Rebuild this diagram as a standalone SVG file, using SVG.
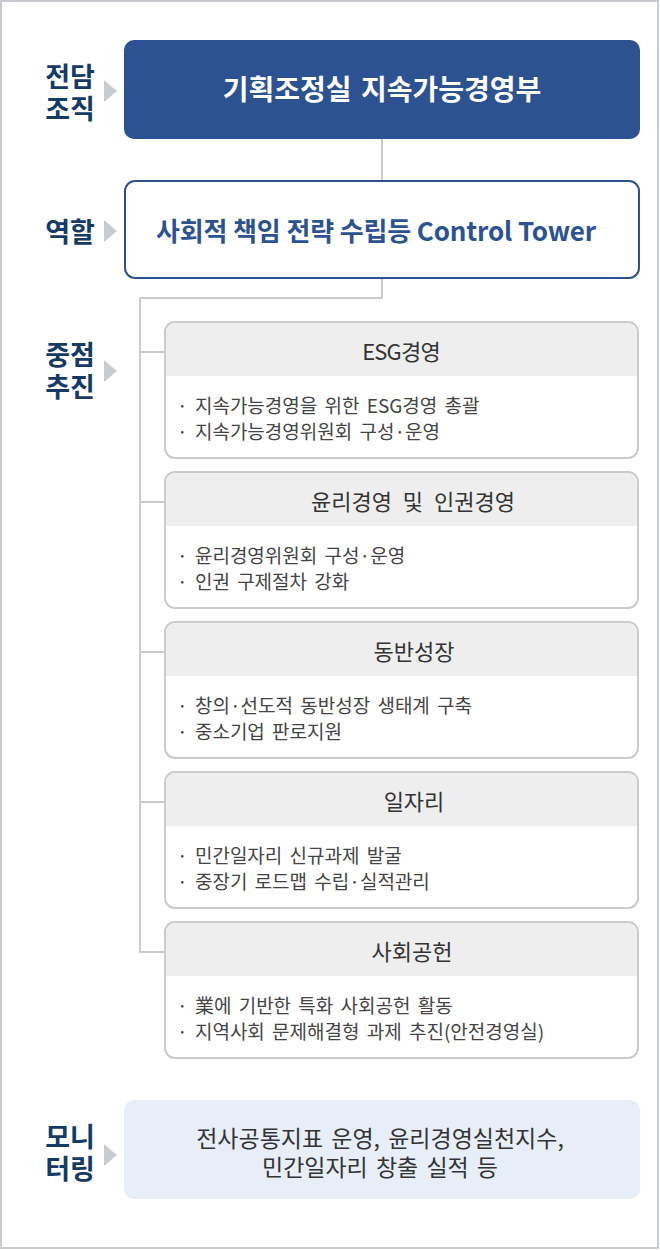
<svg xmlns="http://www.w3.org/2000/svg" width="660" height="1250" viewBox="0 0 660 1250">
<style>
.lbl{font-family:"Noto Sans CJK KR","Noto Sans",sans-serif;font-weight:700;font-size:27px;fill:#163a66;text-anchor:middle}
.arr{fill:#c8ccd0}
.card{fill:#ffffff;stroke:#c8ccd0;stroke-width:2}
.hdr{fill:#eeeeee}
.ttl{font-family:"Noto Sans CJK KR","Noto Sans",sans-serif;font-size:22px;fill:#333333;text-anchor:middle;word-spacing:6px}
.bul{font-family:"Noto Sans CJK KR","Noto Sans",sans-serif;font-size:19px;fill:#444444;word-spacing:3px}
.con{fill:none;stroke:#c8ccd0;stroke-width:2}
.mon{font-family:"Noto Sans CJK KR","Noto Sans",sans-serif;font-size:23px;fill:#333333;text-anchor:middle;word-spacing:3px}
</style>
<rect x="1" y="1" width="657" height="1247" fill="#ffffff" stroke="#c8ccd0" stroke-width="2"/>
<g id="labels">
<text class="lbl"><tspan x="70" y="87">전담</tspan><tspan x="70" y="119">조직</tspan></text>
<polygon class="arr" points="104,80 117,91 104,102"/>
<text class="lbl" x="70" y="242">역할</text>
<polygon class="arr" points="104,220 117,231 104,242"/>
<text class="lbl"><tspan x="70" y="365">중점</tspan><tspan x="70" y="397">추진</tspan></text>
<polygon class="arr" points="104,360 117,371 104,382"/>
<text class="lbl"><tspan x="70" y="1147">모니</tspan><tspan x="70" y="1179">터링</tspan></text>
<polygon class="arr" points="104,1144 117,1155 104,1166"/>
</g>
<g id="connectors">
<line class="con" x1="382" y1="139" x2="382" y2="181"/>
<polyline class="con" points="382,278 382,298 140,298 140,952 165,952"/>
<line class="con" x1="140" y1="352" x2="165" y2="352"/>
<line class="con" x1="140" y1="502" x2="165" y2="502"/>
<line class="con" x1="140" y1="652" x2="165" y2="652"/>
<line class="con" x1="140" y1="802" x2="165" y2="802"/>
</g>
<g id="node-org">
<rect x="124" y="40" width="516" height="99" rx="10" fill="#2d5291"/>
<text x="382" y="100" font-family="'Noto Sans CJK KR','Noto Sans',sans-serif" font-weight="700" font-size="28" fill="#ffffff" text-anchor="middle" word-spacing="3">기획조정실 지속가능경영부</text>
</g>
<g id="node-role">
<rect x="125" y="181" width="514" height="97" rx="10" fill="#ffffff" stroke="#2d5291" stroke-width="2"/>
<text x="376" y="241" font-family="'Noto Sans CJK KR','Noto Sans',sans-serif" font-weight="700" font-size="26" fill="#2d5291" text-anchor="middle" letter-spacing="-0.15">사회적 책임 전략 수립등 Control Tower</text>
</g>
<g id="card-esg">
<rect class="card" x="165" y="322" width="473" height="136" rx="10"/>
<path class="hdr" d="M166,376 V332 A9,9 0 0 1 175,323 H628 A9,9 0 0 1 637,332 V376 Z"/>
<text class="ttl" x="401" y="360" letter-spacing="-0.8">ESG경영</text>
<text class="bul" x="177" y="413">· 지속가능경영을 위한 ESG경영 총괄</text>
<text class="bul" x="177" y="439">· 지속가능경영위원회 구성·운영</text>
</g>
<g id="card-ethics">
<rect class="card" x="165" y="472" width="473" height="136" rx="10"/>
<path class="hdr" d="M166,526 V482 A9,9 0 0 1 175,473 H628 A9,9 0 0 1 637,482 V526 Z"/>
<text class="ttl" x="413" y="510">윤리경영 및 인권경영</text>
<text class="bul" x="177" y="563">· 윤리경영위원회 구성·운영</text>
<text class="bul" x="177" y="589">· 인권 구제절차 강화</text>
</g>
<g id="card-growth">
<rect class="card" x="165" y="622" width="473" height="136" rx="10"/>
<path class="hdr" d="M166,676 V632 A9,9 0 0 1 175,623 H628 A9,9 0 0 1 637,632 V676 Z"/>
<text class="ttl" x="414" y="660">동반성장</text>
<text class="bul" x="177" y="713">· 창의·선도적 동반성장 생태계 구축</text>
<text class="bul" x="177" y="739">· 중소기업 판로지원</text>
</g>
<g id="card-jobs">
<rect class="card" x="165" y="772" width="473" height="136" rx="10"/>
<path class="hdr" d="M166,826 V782 A9,9 0 0 1 175,773 H628 A9,9 0 0 1 637,782 V826 Z"/>
<text class="ttl" x="414" y="810">일자리</text>
<text class="bul" x="177" y="863">· 민간일자리 신규과제 발굴</text>
<text class="bul" x="177" y="889">· 중장기 로드맵 수립·실적관리</text>
</g>
<g id="card-social">
<rect class="card" x="165" y="922" width="473" height="136" rx="10"/>
<path class="hdr" d="M166,976 V932 A9,9 0 0 1 175,923 H628 A9,9 0 0 1 637,932 V976 Z"/>
<text class="ttl" x="412" y="960">사회공헌</text>
<text class="bul" x="177" y="1013">· 業에 기반한 특화 사회공헌 활동</text>
<text class="bul" x="177" y="1039">· 지역사회 문제해결형 과제 추진(안전경영실)</text>
</g>
<g id="node-monitor">
<rect x="124" y="1100" width="516" height="99" rx="10" fill="#e8eef8"/>
<text class="mon"><tspan x="380" y="1147">전사공통지표 운영, 윤리경영실천지수,</tspan><tspan x="380" y="1176">민간일자리 창출 실적 등</tspan></text>
</g>
</svg>
